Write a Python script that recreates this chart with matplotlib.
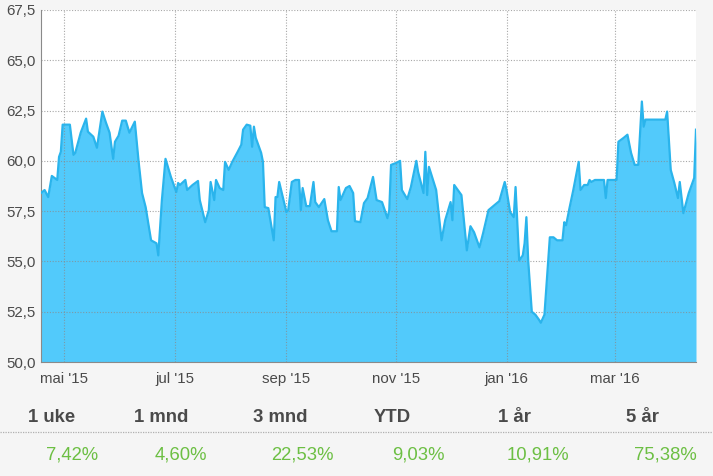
"""One-year price chart with period returns underneath."""
import numpy as np
import pandas as pd

import matplotlib

matplotlib.use("Agg")
import matplotlib.pyplot as plt  # noqa: E402
import matplotlib.dates as mdates  # noqa: E402
from matplotlib.lines import Line2D  # noqa: E402

dates = [
    "2015-04-18", "2015-04-20", "2015-04-22", "2015-04-24", "2015-04-27", "2015-04-28",
    "2015-04-29", "2015-04-30", "2015-05-04", "2015-05-06", "2015-05-07", "2015-05-10",
    "2015-05-13", "2015-05-14", "2015-05-17", "2015-05-19", "2015-05-22", "2015-05-24",
    "2015-05-26", "2015-05-28", "2015-05-29", "2015-05-31", "2015-06-02", "2015-06-04",
    "2015-06-06", "2015-06-09", "2015-06-11", "2015-06-13", "2015-06-15", "2015-06-18",
    "2015-06-19", "2015-06-21", "2015-06-22", "2015-06-24", "2015-06-26", "2015-06-29",
    "2015-06-30", "2015-07-02", "2015-07-03", "2015-07-04", "2015-07-07", "2015-07-08",
    "2015-07-11", "2015-07-14", "2015-07-15", "2015-07-18", "2015-07-20", "2015-07-21",
    "2015-07-23", "2015-07-24", "2015-07-26", "2015-07-28", "2015-07-29", "2015-07-31",
    "2015-08-02", "2015-08-05", "2015-08-07", "2015-08-08", "2015-08-10", "2015-08-12",
    "2015-08-13", "2015-08-14", "2015-08-15", "2015-08-18", "2015-08-19", "2015-08-20",
    "2015-08-22", "2015-08-25", "2015-08-26", "2015-08-27", "2015-08-28", "2015-08-30",
    "2015-09-01", "2015-09-02", "2015-09-04", "2015-09-06", "2015-09-08", "2015-09-09",
    "2015-09-10", "2015-09-12", "2015-09-14", "2015-09-16", "2015-09-17", "2015-09-19",
    "2015-09-22", "2015-09-24", "2015-09-26", "2015-09-29", "2015-09-30", "2015-10-01",
    "2015-10-04", "2015-10-06", "2015-10-08", "2015-10-09", "2015-10-12", "2015-10-14",
    "2015-10-16", "2015-10-19", "2015-10-21", "2015-10-24", "2015-10-27", "2015-10-28",
    "2015-10-29", "2015-11-01", "2015-11-03", "2015-11-04", "2015-11-07", "2015-11-09",
    "2015-11-12", "2015-11-13", "2015-11-16", "2015-11-17", "2015-11-18", "2015-11-19",
    "2015-11-23", "2015-11-26", "2015-11-28", "2015-12-01", "2015-12-02", "2015-12-03",
    "2015-12-07", "2015-12-10", "2015-12-12", "2015-12-14", "2015-12-17", "2015-12-19",
    "2015-12-22", "2015-12-28", "2015-12-31", "2016-01-01", "2016-01-03", "2016-01-05",
    "2016-01-06", "2016-01-08", "2016-01-10", "2016-01-11", "2016-01-12", "2016-01-13",
    "2016-01-15", "2016-01-17", "2016-01-19", "2016-01-20", "2016-01-22", "2016-01-25",
    "2016-01-27", "2016-01-29", "2016-02-01", "2016-02-02", "2016-02-03", "2016-02-05",
    "2016-02-07", "2016-02-10", "2016-02-11", "2016-02-13", "2016-02-15", "2016-02-16",
    "2016-02-17", "2016-02-19", "2016-02-24", "2016-02-25", "2016-02-26", "2016-03-02",
    "2016-03-03", "2016-03-06", "2016-03-08", "2016-03-10", "2016-03-12", "2016-03-14",
    "2016-03-16", "2016-03-17", "2016-03-18", "2016-03-29", "2016-03-30", "2016-04-01",
    "2016-04-03", "2016-04-05", "2016-04-06", "2016-04-08", "2016-04-11", "2016-04-14",
    "2016-04-15",
]
prices = [
    58.4, 58.55, 58.2, 59.25, 59.05, 60.2,
    60.45, 61.8, 61.8, 60.3, 60.4, 61.4,
    62.1, 61.45, 61.2, 60.65, 62.45, 61.9,
    61.4, 60.1, 60.95, 61.25, 62.0, 62.0,
    61.4, 61.95, 60.05, 58.4, 57.7, 56.05,
    56.0, 55.9, 55.3, 58.05, 60.1, 59.2,
    58.95, 58.45, 58.9, 58.8, 59.05, 58.55,
    58.8, 59.0, 58.05, 56.95, 57.55, 58.95,
    58.05, 59.05, 58.65, 58.55, 59.95, 59.55,
    59.95, 60.45, 60.8, 61.55, 61.8, 61.75,
    60.7, 61.7, 61.15, 60.4, 59.95, 57.7,
    57.65, 56.05, 58.2, 58.2, 58.95, 58.2,
    57.45, 57.55, 58.95, 59.05, 59.05, 57.55,
    58.65, 57.75, 57.75, 58.95, 57.95, 57.7,
    58.1, 57.05, 56.5, 56.5, 58.7, 58.05,
    58.65, 58.75, 58.4, 57.0, 56.95, 57.9,
    58.15, 59.2, 58.05, 57.95, 57.15, 57.55,
    59.8, 59.9, 60.0, 58.55, 58.1, 58.7,
    60.0, 59.45, 58.4, 60.45, 58.3, 59.7,
    58.55, 56.05, 57.05, 57.95, 57.05, 58.8,
    58.3, 55.55, 56.75, 56.45, 55.7, 56.4,
    57.55, 58.0, 58.95, 58.55, 57.45, 57.2,
    58.7, 55.05, 55.3, 55.9, 57.2, 55.05,
    52.5, 52.35, 52.1, 51.95, 52.35, 56.2,
    56.2, 56.05, 56.05, 56.95, 56.8, 57.7,
    58.55, 59.95, 58.55, 58.8, 58.8, 59.05,
    58.95, 59.05, 59.05, 58.15, 59.05, 59.05,
    60.95, 61.15, 61.3, 60.4, 59.8, 59.8,
    62.95, 61.7, 62.05, 62.05, 62.45, 59.55,
    58.9, 58.15, 58.95, 57.4, 58.4, 59.15,
    61.55,
]

month_ticks = ["2015-05-01", "2015-07-01", "2015-09-01", "2015-11-01", "2016-01-01", "2016-03-01"]
month_labels = ["mai '15", "jul '15", "sep '15", "nov '15", "jan '16", "mar '16"]
y_ticks = [50.0, 52.5, 55.0, 57.5, 60.0, 62.5, 65.0, 67.5]

periods = ["1 uke", "1 mnd", "3 mnd", "YTD", "1 år", "5 år"]
returns = ["7,42%", "4,60%", "22,53%", "9,03%", "10,91%", "75,38%"]

plt.rcParams["font.family"] = ["Liberation Sans", "DejaVu Sans"]

W, H = 713, 476
fig = plt.figure(figsize=(W / 100, H / 100), dpi=100, facecolor="#f5f5f5")
ax = fig.add_axes([41 / W, 1 - 362 / H, (696 - 41) / W, (362 - 10) / H])
ax.set_facecolor("white")

x = pd.to_datetime(dates)
y = np.array(prices)
ax.fill_between(x, y, 50, color="#52cafb", linewidth=0, zorder=1)
ax.plot(x, y, color="#2ab4ec", linewidth=1.6, zorder=3)

ax.set_xlim(x[0], x[-1])
ax.set_ylim(50, 67.5)
ax.set_yticks(y_ticks)
ax.set_yticklabels([f"{v:.1f}".replace(".", ",") for v in y_ticks])
ax.set_xticks(mdates.date2num(pd.to_datetime(month_ticks)))
ax.set_xticklabels(month_labels)
ax.tick_params(length=0, labelsize=10.8, labelcolor="#4a4a4a", pad=4)
ax.tick_params(axis="x", pad=7)

ax.grid(True, color="#8a8a8a", linestyle=(0, (1, 1.5)), linewidth=0.8, alpha=0.75, zorder=2)
ax.set_axisbelow(False)
for side in ("top", "right"):
    ax.spines[side].set_visible(False)
ax.spines["left"].set_color("#8a8a8a")
ax.spines["bottom"].set_color("#8a8a8a")

head_x = [52, 161, 280, 392, 514, 642]
val_x = [72, 181, 302, 418, 538, 665]
for hx, vx, p, r in zip(head_x, val_x, periods, returns):
    fig.text(hx / W, 1 - 417 / H, p, ha="center", va="center", fontsize=13.3,
             fontweight="bold", color="#4a4a4a")
    fig.text(vx / W, 1 - 455 / H, r, ha="center", va="center", fontsize=13.3,
             color="#6cbf43")
fig.add_artist(Line2D([0, 1], [1 - 432 / H] * 2, transform=fig.transFigure,
                      color="#b0b0b0", linestyle=(0, (1, 1)), linewidth=0.9))

fig.savefig("out.png", dpi=100, facecolor=fig.get_facecolor())
